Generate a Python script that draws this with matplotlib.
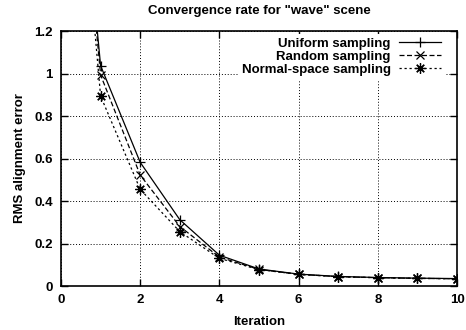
import numpy as np
import matplotlib
matplotlib.use("Agg")
import matplotlib.pyplot as plt

plt.rcParams['font.family'] = ['Liberation Sans', 'DejaVu Sans']
plt.rcParams['font.weight'] = 'bold'

iterations = [0, 1, 2, 3, 4, 5, 6, 7, 8, 9, 10]
uniform = [3.0, 1.037, 0.582, 0.312, 0.145, 0.080, 0.056, 0.045, 0.040, 0.037, 0.035]
random_s = [3.0, 0.993, 0.522, 0.280, 0.136, 0.078, 0.055, 0.044, 0.039, 0.036, 0.034]
normal = [3.0, 0.894, 0.455, 0.256, 0.130, 0.077, 0.055, 0.044, 0.039, 0.036, 0.034]
labels = ["Uniform sampling", "Random sampling", "Normal-space sampling"]

fig = plt.figure(figsize=(4.66, 3.30), dpi=100)
ax = fig.add_axes([0.1309, 0.1333, 0.8498, 0.7727])

ax.plot(iterations, uniform, color='black', lw=0.9, ls='-',
        marker='+', ms=7.5, mew=0.9, label=labels[0])
ax.plot(iterations, random_s, color='black', lw=0.9, ls=(0, (4, 2)),
        marker='x', ms=6, mew=0.9, label=labels[1])
ax.plot(iterations, normal, color='black', lw=0.9, ls=(0, (1.8, 2.2)),
        marker=(8, 2, 0), ms=7.5, mew=0.9, label=labels[2])

ax.set_xlim(0, 10)
ax.set_ylim(0, 1.2)
ax.set_xticks(np.arange(0, 11, 2))
ax.set_yticks([0, 0.2, 0.4, 0.6, 0.8, 1, 1.2])
ax.set_yticklabels(["0", "0.2", "0.4", "0.6", "0.8", "1", "1.2"])
ax.tick_params(direction='in', length=5, width=1, top=True, right=True,
               labelsize=9.5, pad=6)
for t in ax.get_xticklabels() + ax.get_yticklabels():
    t.set_fontweight('bold')
ax.grid(True, ls=(0, (1, 2)), lw=0.7, color='black')
for s in ax.spines.values():
    s.set_linewidth(1.2)

ax.set_title('Convergence rate for "wave" scene', fontsize=9.5,
             fontweight='bold', pad=12)
ax.set_xlabel("Iteration", fontsize=9.5, fontweight='bold', labelpad=7)
ax.set_ylabel("RMS alignment error", fontsize=9.5, fontweight='bold', labelpad=6)

leg = ax.legend(loc='upper right', bbox_to_anchor=(0.976, 1.0),
                markerfirst=False, frameon=True,
                prop={'size': 9.5, 'weight': 'bold'},
                handlelength=3.2, handletextpad=0.6,
                labelspacing=0.05, borderaxespad=0.2, borderpad=0.3)
leg.get_frame().set_edgecolor('none')
leg.get_frame().set_facecolor('white')
leg.get_frame().set_alpha(1)

fig.savefig("out.png", dpi=100)
